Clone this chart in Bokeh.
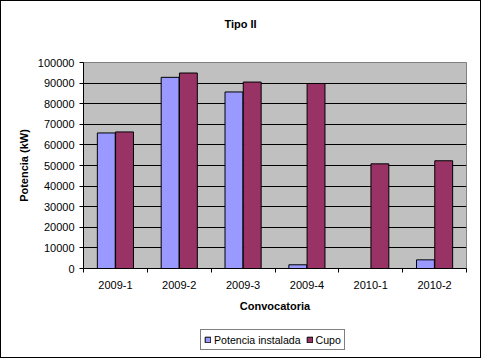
from bokeh.plotting import figure
from bokeh.layouts import column
from bokeh.models import (ColumnDataSource, FixedTicker, Legend, LegendItem,
                          Range1d, BasicTickFormatter, Label)
from bokeh.embed import file_html
from bokeh.resources import INLINE

categories = ["2009-1", "2009-2", "2009-3", "2009-4", "2010-1", "2010-2"]
potencia_instalada = [65800, 92800, 85700, 1800, 0, 4200]
cupo = [66300, 94900, 90500, 89800, 50800, 52300]
y_ticks = [0, 10000, 20000, 30000, 40000, 50000, 60000, 70000, 80000, 90000, 100000]

FONT = "Liberation Sans"
BLUE = "#9999FF"
PLUM = "#993366"
centers = [i + 0.5 for i in range(len(categories))]
bar_w = 0.28
off = 0.143

src = ColumnDataSource(dict(
    x1=[c - off for c in centers],
    x2=[c + off for c in centers],
    pot=potencia_instalada,
    cupo=cupo,
))


def strip(height):
    f = figure(width=479, height=height, output_backend="svg", toolbar_location=None,
               x_range=Range1d(0, 1), y_range=Range1d(0, 1),
               x_axis_type=None, y_axis_type=None,
               min_border_left=0, min_border_right=0, min_border_top=0,
               min_border_bottom=0)
    f.outline_line_color = None
    f.background_fill_color = "white"
    f.border_fill_color = "white"
    f.xgrid.visible = False
    f.ygrid.visible = False
    return f


# title strip
tf = strip(40)
tf.add_layout(Label(x=157, y=18, x_units="screen", y_units="screen", text="Tipo II",
                    text_font=FONT, text_font_size="11px", text_font_style="bold",
                    text_color="black", text_align="center", text_baseline="middle"))

# main chart
p = figure(width=479, height=277, output_backend="svg", toolbar_location=None,
           x_range=Range1d(0, len(categories)), y_range=Range1d(0, 100000),
           min_border_left=82, min_border_right=14, min_border_top=21,
           min_border_bottom=50)

p.background_fill_color = "#C0C0C0"
p.border_fill_color = "white"
p.outline_line_color = "#808080"

r1 = p.vbar(x="x1", top="pot", width=bar_w, source=src, fill_color=BLUE,
            line_color="black", line_width=1)
r2 = p.vbar(x="x2", top="cupo", width=bar_w, source=src, fill_color=PLUM,
            line_color="black", line_width=1)

# x axis
xa = p.xaxis[0]
xa.ticker = FixedTicker(ticks=centers, minor_ticks=list(range(len(categories) + 1)))
xa.major_label_overrides = {c: lab for c, lab in zip(centers, categories)}
xa.major_tick_out = 0
xa.major_tick_in = 0
xa.minor_tick_out = 4
xa.minor_tick_in = 0
xa.minor_tick_line_color = "black"
xa.axis_line_color = "black"
xa.major_label_text_font = FONT
xa.major_label_text_font_size = "11px"
xa.major_label_text_color = "black"
xa.major_label_standoff = 8
xa.axis_label = "Convocatoria"
xa.axis_label_text_font = FONT
xa.axis_label_text_font_size = "11px"
xa.axis_label_text_font_style = "bold"
xa.axis_label_text_color = "black"
xa.axis_label_standoff = 8

# y axis
ya = p.yaxis[0]
ya.ticker = FixedTicker(ticks=y_ticks)
ya.formatter = BasicTickFormatter(use_scientific=False)
ya.major_tick_out = 4
ya.major_tick_in = 0
ya.minor_tick_out = 0
ya.minor_tick_in = 0
ya.major_tick_line_color = "black"
ya.axis_line_color = "black"
ya.major_label_text_font = FONT
ya.major_label_text_font_size = "11px"
ya.major_label_text_color = "black"
ya.major_label_standoff = 5
ya.axis_label = "Potencia (kW)"
ya.axis_label_text_font = FONT
ya.axis_label_text_font_size = "11px"
ya.axis_label_text_font_style = "bold"
ya.axis_label_text_color = "black"
ya.axis_label_standoff = 5

p.xgrid.grid_line_color = None
p.ygrid.ticker = FixedTicker(ticks=y_ticks)
p.ygrid.grid_line_color = "black"
p.ygrid.grid_line_width = 1
p.ygrid.grid_line_alpha = 1

# legend strip below the chart (its renderers are hidden, only the legend shows)
lf = strip(39)
lr1 = lf.vbar(x="x1", top="pot", width=bar_w, source=src, fill_color=BLUE,
              line_color="black", line_width=1, visible=False)
lr2 = lf.vbar(x="x2", top="cupo", width=bar_w, source=src, fill_color=PLUM,
              line_color="black", line_width=1, visible=False)

legend = Legend(items=[LegendItem(label="Potencia instalada", renderers=[lr1]),
                       LegendItem(label="Cupo", renderers=[lr2])],
                orientation="horizontal", location=(117, 7),
                glyph_width=7, glyph_height=7, label_standoff=3, spacing=5,
                padding=3, margin=0, label_height=13,
                label_text_font=FONT, label_text_font_size="10.6px",
                label_text_color="black",
                inactive_fill_alpha=0,
                border_line_color="black", border_line_width=1,
                background_fill_color="white", background_fill_alpha=1)
lf.add_layout(legend, "center")

layout = column(tf, p, lf, spacing=0, styles={"border": "1px solid black"})

open("out.html", "w").write(file_html(layout, INLINE))
